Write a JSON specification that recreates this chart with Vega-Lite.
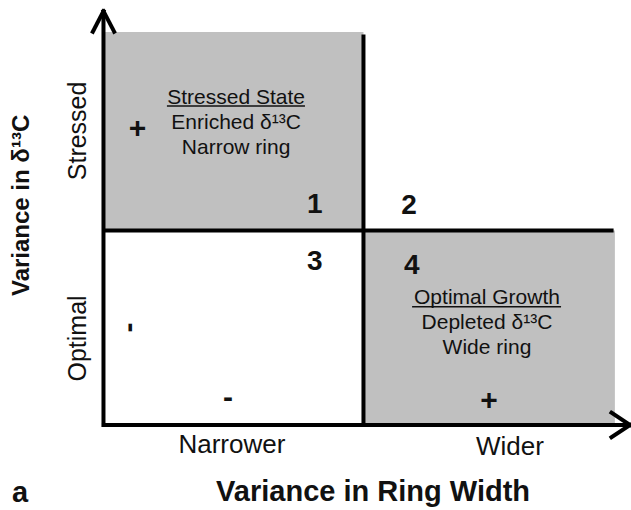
{
  "$schema": "https://vega.github.io/schema/vega-lite/v6.json",
  "width": 631,
  "height": 510,
  "padding": 0,
  "autosize": {"type": "none"},
  "background": "white",
  "config": {"view": {"stroke": null}, "font": "Liberation Sans", "text": {"font": "Liberation Sans"}},
  "datasets": {
    "rects": [
      {"x": 0, "x2": 1, "y": 1, "y2": 2.02},
      {"x": 1, "x2": 1.967, "y": 0, "y2": 1}
    ],
    "lines": [
      {"x": 0, "y": -0.01, "x2": 0, "y2": 2.12},
      {"x": -0.006, "y": 0, "x2": 2.02, "y2": 0},
      {"x": 1, "y": 0, "x2": 1, "y2": 2.008},
      {"x": 0, "y": 1, "x2": 1.962, "y2": 1}
    ],
    "arrows": [
      {"x": -0.041, "y": 2.022, "x2": 0, "y2": 2.128},
      {"x": 0.041, "y": 2.022, "x2": 0, "y2": 2.128},
      {"x": 1.954, "y": 0.063, "x2": 2.025, "y2": 0},
      {"x": 1.954, "y": -0.063, "x2": 2.025, "y2": 0}
    ],
    "underlines": [
      {"x": 0.244, "x2": 0.775, "y": 1.64, "y2": 1.64},
      {"x": 1.187, "x2": 1.76, "y": 0.608, "y2": 0.608}
    ],
    "boxText": [
      {"label": "Stressed State", "x": 0.51, "y": 1.681},
      {"label": "Enriched δ¹³C", "x": 0.51, "y": 1.553},
      {"label": "Narrow ring", "x": 0.51, "y": 1.424},
      {"label": "Optimal Growth", "x": 1.475, "y": 0.653},
      {"label": "Depleted δ¹³C", "x": 1.475, "y": 0.524},
      {"label": "Wide ring", "x": 1.475, "y": 0.396}
    ],
    "numbers": [
      {"label": "1", "x": 0.813, "y": 1.131},
      {"label": "2", "x": 1.175, "y": 1.126},
      {"label": "3", "x": 0.813, "y": 0.838},
      {"label": "4", "x": 1.186, "y": 0.817}
    ],
    "signs": [
      {"label": "+", "x": 0.131, "y": 1.524},
      {"label": "+", "x": 1.483, "y": 0.123},
      {"label": "-", "x": 0.479, "y": 0.139}
    ],
    "vsigns": [
      {"label": "-", "x": 0.0992, "y": 0.501}
    ],
    "xticks": [
      {"label": "Narrower", "x": 0.494, "y": -0.103},
      {"label": "Wider", "x": 1.563, "y": -0.113}
    ],
    "yticks": [
      {"label": "Stressed", "x": -0.098, "y": 1.512},
      {"label": "Optimal", "x": -0.098, "y": 0.445}
    ],
    "xtitle": [
      {"label": "Variance in Ring Width", "x": 1.037, "y": -0.344},
      {"label": "a", "x": -0.321, "y": -0.35}
    ],
    "ytitle": [
      {"label": "Variance in δ¹³C", "x": -0.313, "y": 1.129}
    ]
  },
  "encoding": {
    "x": {"field": "x", "type": "quantitative", "scale": {"domain": [-0.398, 2.029], "nice": false, "zero": false}, "axis": null},
    "y": {"field": "y", "type": "quantitative", "scale": {"domain": [-0.437, 2.185], "nice": false, "zero": false}, "axis": null}
  },
  "layer": [
    {
      "data": {"name": "rects"},
      "mark": {"type": "rect", "color": "#c0c0c0", "clip": false},
      "encoding": {"x2": {"field": "x2"}, "y2": {"field": "y2"}}
    },
    {
      "data": {"name": "lines"},
      "mark": {"type": "rule", "color": "black", "strokeWidth": 4, "strokeCap": "butt", "clip": false},
      "encoding": {"x2": {"field": "x2"}, "y2": {"field": "y2"}}
    },
    {
      "data": {"name": "arrows"},
      "mark": {"type": "rule", "color": "black", "strokeWidth": 4, "strokeCap": "square", "clip": false},
      "encoding": {"x2": {"field": "x2"}, "y2": {"field": "y2"}}
    },
    {
      "data": {"name": "underlines"},
      "mark": {"type": "rule", "color": "#111111", "strokeWidth": 1.6, "clip": false},
      "encoding": {"x2": {"field": "x2"}, "y2": {"field": "y2"}}
    },
    {
      "data": {"name": "boxText"},
      "mark": {"type": "text", "font": "Liberation Sans", "fontSize": 21, "color": "#111111", "align": "center", "baseline": "middle"},
      "encoding": {"text": {"field": "label"}}
    },
    {
      "data": {"name": "numbers"},
      "mark": {"type": "text", "font": "Liberation Sans", "fontSize": 28, "fontWeight": "bold", "color": "#111111", "align": "center", "baseline": "middle"},
      "encoding": {"text": {"field": "label"}}
    },
    {
      "data": {"name": "signs"},
      "mark": {"type": "text", "font": "Liberation Sans", "fontSize": 30, "fontWeight": "bold", "color": "#111111", "align": "center", "baseline": "middle"},
      "encoding": {"text": {"field": "label"}}
    },
    {
      "data": {"name": "vsigns"},
      "mark": {"type": "text", "font": "Liberation Sans", "fontSize": 30, "fontWeight": "bold", "angle": 270, "color": "#111111", "align": "center", "baseline": "middle"},
      "encoding": {"text": {"field": "label"}}
    },
    {
      "data": {"name": "xticks"},
      "mark": {"type": "text", "font": "Liberation Sans", "fontSize": 26, "color": "#111111", "align": "center", "baseline": "middle"},
      "encoding": {"text": {"field": "label"}}
    },
    {
      "data": {"name": "yticks"},
      "mark": {"type": "text", "font": "Liberation Sans", "fontSize": 25, "angle": 270, "color": "#111111", "align": "center", "baseline": "middle"},
      "encoding": {"text": {"field": "label"}}
    },
    {
      "data": {"name": "xtitle"},
      "mark": {"type": "text", "font": "Liberation Sans", "fontSize": 29, "fontWeight": "bold", "color": "#111111", "align": "center", "baseline": "middle"},
      "encoding": {"text": {"field": "label"}}
    },
    {
      "data": {"name": "ytitle"},
      "mark": {"type": "text", "font": "Liberation Sans", "fontSize": 24, "fontWeight": "bold", "angle": 270, "color": "#111111", "align": "center", "baseline": "middle"},
      "encoding": {"text": {"field": "label"}}
    }
  ]
}
